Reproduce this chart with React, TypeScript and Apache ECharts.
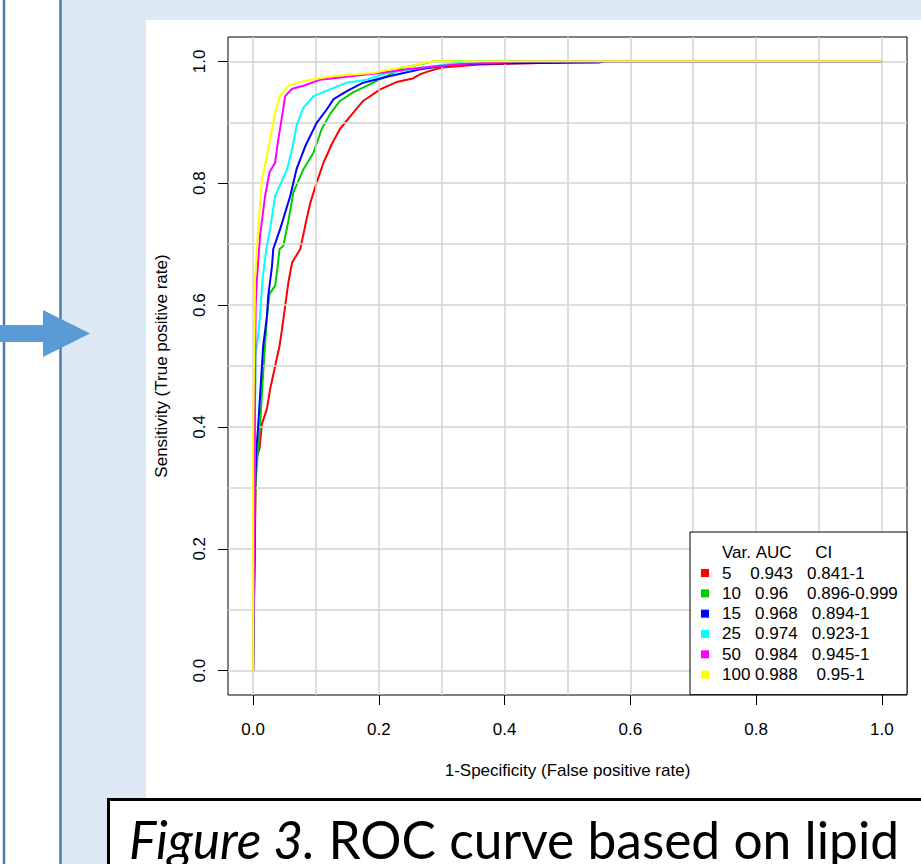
import React, { useEffect, useRef } from 'react';
import * as echarts from 'echarts';

// ---- data ----
const varCounts = ['5', '10', '15', '25', '50', '100'];
const aucValues = ['0.943', '0.96', '0.968', '0.974', '0.984', '0.988'];
const ciValues = ['0.841-1', '0.896-0.999', '0.894-1', '0.923-1', '0.945-1', '0.95-1'];
const seriesColors = ['#ff0000', '#00cd00', '#0000ff', '#00ffff', '#ff00ff', '#ffff00'];

// [1-specificity, sensitivity]
const roc5 = [[0, 0], [0.003, 0.23], [0.004, 0.31], [0.005, 0.348], [0.01, 0.364], [0.014, 0.405], [0.022, 0.43], [0.027, 0.462], [0.035, 0.5], [0.042, 0.533], [0.046, 0.561], [0.051, 0.599], [0.056, 0.637], [0.062, 0.67], [0.075, 0.692], [0.085, 0.741], [0.091, 0.768], [0.101, 0.801], [0.112, 0.834], [0.125, 0.864], [0.138, 0.889], [0.157, 0.913], [0.175, 0.935], [0.202, 0.954], [0.228, 0.966], [0.254, 0.972], [0.266, 0.979], [0.28, 0.984], [0.3, 0.99], [0.36, 0.995], [0.44, 0.997], [0.49, 0.998], [0.5, 1], [1, 1]];
const roc10 = [[0, 0], [0.001, 0.1], [0.002, 0.2], [0.004, 0.31], [0.007, 0.353], [0.011, 0.402], [0.015, 0.473], [0.019, 0.536], [0.022, 0.582], [0.026, 0.618], [0.035, 0.632], [0.039, 0.664], [0.042, 0.692], [0.048, 0.697], [0.056, 0.738], [0.064, 0.785], [0.08, 0.823], [0.096, 0.85], [0.109, 0.889], [0.122, 0.913], [0.138, 0.935], [0.159, 0.949], [0.191, 0.965], [0.223, 0.981], [0.239, 0.99], [0.26, 0.994], [0.287, 1], [1, 1]];
const roc15 = [[0, 0], [0.002, 0.17], [0.003, 0.3], [0.004, 0.33], [0.005, 0.36], [0.008, 0.402], [0.011, 0.451], [0.014, 0.5], [0.016, 0.533], [0.022, 0.582], [0.024, 0.615], [0.03, 0.664], [0.032, 0.692], [0.043, 0.725], [0.059, 0.779], [0.069, 0.823], [0.083, 0.861], [0.101, 0.899], [0.117, 0.921], [0.128, 0.938], [0.149, 0.951], [0.175, 0.965], [0.218, 0.976], [0.266, 0.987], [0.318, 0.995], [0.4, 0.997], [0.55, 0.998], [0.56, 1], [1, 1]];
const roc25 = [[0, 0], [0.002, 0.3], [0.004, 0.52], [0.008, 0.55], [0.011, 0.582], [0.015, 0.643], [0.021, 0.692], [0.027, 0.725], [0.035, 0.779], [0.054, 0.823], [0.062, 0.856], [0.069, 0.894], [0.08, 0.924], [0.096, 0.943], [0.122, 0.954], [0.149, 0.965], [0.181, 0.97], [0.213, 0.981], [0.266, 0.989], [0.33, 0.998], [0.335, 1], [1, 1]];
const roc50 = [[0, 0], [0.002, 0.27], [0.003, 0.45], [0.004, 0.6], [0.006, 0.643], [0.011, 0.714], [0.019, 0.779], [0.026, 0.818], [0.035, 0.834], [0.04, 0.872], [0.046, 0.91], [0.051, 0.943], [0.062, 0.955], [0.08, 0.96], [0.107, 0.97], [0.159, 0.976], [0.202, 0.981], [0.244, 0.987], [0.292, 0.992], [0.34, 0.996], [0.4, 0.998], [0.41, 1], [1, 1]];
const roc100 = [[0, 0], [0, 0.39], [0.002, 0.55], [0.003, 0.643], [0.008, 0.725], [0.014, 0.807], [0.022, 0.845], [0.03, 0.889], [0.035, 0.916], [0.043, 0.943], [0.056, 0.96], [0.069, 0.965], [0.091, 0.97], [0.128, 0.976], [0.191, 0.981], [0.218, 0.987], [0.25, 0.992], [0.276, 0.998], [0.286, 1], [1, 1]];
const rocCurves = [roc5, roc10, roc15, roc25, roc50, roc100];

const tickValues = [0, 0.2, 0.4, 0.6, 0.8, 1.0];
const tickLabels = ['0.0', '0.2', '0.4', '0.6', '0.8', '1.0'];
const gridValues = [0, 0.1, 0.2, 0.3, 0.4, 0.5, 0.6, 0.7, 0.8, 0.9, 1.0];

const xTitle = '1-Specificity (False positive rate)';
const yTitle = 'Sensitivity (True positive rate)';
const legendHeader = ['Var.', 'AUC', 'CI'];
const captionItalic = 'Figure 3.';
const captionRest = ' ROC curve based on lipid';

// ---- layout / style ----
const FONT = "'Liberation Sans', Arial, sans-serif";
const gapAfterVar = [4, 3, 3, 3, 3, 1];
const gapAfterAuc = [3, 4, 3, 3, 3, 4];
const headerGaps = [1, 5];
const nb = (n: number) => '\u00A0'.repeat(n);

const tickLabel = (v: number) => {
  const i = tickValues.findIndex((t) => Math.abs(t - v) < 1e-9);
  return i >= 0 ? tickLabels[i] : '';
};

export default function App() {
  const ref = useRef<HTMLDivElement>(null);

  useEffect(() => {
    if (!ref.current) return;
    const chart = echarts.init(ref.current, null, { renderer: 'svg' });

    const legendText = (name: string) => {
      const i = varCounts.indexOf(name);
      return `{t|${varCounts[i]}${nb(gapAfterVar[i])}${aucValues[i]}${nb(gapAfterAuc[i])}${ciValues[i]}}`;
    };

    const gridSeries: any = {
      type: 'line',
      name: '__grid',
      data: [[0, 0]],
      symbol: 'none',
      lineStyle: { opacity: 0 },
      silent: true,
      z: 1,
      markLine: {
        silent: true,
        symbol: ['none', 'none'],
        label: { show: false },
        emphasis: { disabled: true },
        lineStyle: { color: '#d3d3d3', width: 1.5, type: 'solid' },
        data: [
          ...gridValues.map((v) => ({ xAxis: v })),
          ...gridValues.map((v) => ({ yAxis: v })),
        ],
      },
    };

    const curveSeries = rocCurves.map((d, i) => ({
      type: 'line',
      name: varCounts[i],
      data: d,
      symbol: 'none',
      showSymbol: false,
      color: seriesColors[i],
      itemStyle: { color: seriesColors[i] },
      lineStyle: { color: seriesColors[i], width: 2 },
      silent: true,
      z: 3 + i,
    }));

    const axisText = { fontSize: 17, fontFamily: FONT, color: '#000' };

    chart.setOption({
      animation: false,
      backgroundColor: '#ffffff',
      grid: {
        left: 228,
        top: 37,
        width: 679,
        height: 658,
        show: true,
        borderColor: '#000',
        borderWidth: 1,
        backgroundColor: 'transparent',
        z: 2,
      },
      xAxis: {
        type: 'value',
        min: -0.04,
        max: 1.04,
        name: xTitle,
        nameLocation: 'middle',
        nameGap: 67,
        nameTextStyle: axisText,
        axisLine: { show: false, onZero: false },
        axisTick: { show: true, customValues: tickValues, length: 10, inside: false, lineStyle: { color: '#000', width: 1 } },
        axisLabel: { show: true, customValues: tickValues, formatter: tickLabel, margin: 26, ...axisText },
        splitLine: { show: false },
      },
      yAxis: {
        type: 'value',
        min: -0.04,
        max: 1.04,
        name: yTitle,
        nameLocation: 'middle',
        nameGap: 58,
        nameTextStyle: axisText,
        axisLine: { show: false, onZero: false },
        axisTick: { show: true, customValues: tickValues, length: 10, inside: false, lineStyle: { color: '#000', width: 1 } },
        axisLabel: { show: true, customValues: tickValues, formatter: tickLabel, margin: 20, rotate: 90, ...axisText },
        splitLine: { show: false },
      },
      legend: {
        show: true,
        orient: 'vertical',
        left: 690,
        top: 532,
        padding: [31, 9, 10, 11],
        itemWidth: 8,
        itemHeight: 8,
        itemGap: 0.33,
        icon: 'rect',
        itemStyle: { borderWidth: 0 },
        backgroundColor: '#fff',
        borderColor: '#000',
        borderWidth: 1,
        borderRadius: 0,
        selectedMode: false,
        data: varCounts,
        formatter: legendText,
        textStyle: {
          ...axisText,
          lineHeight: 20,
          rich: {
            t: { ...axisText, lineHeight: 20, width: 176, padding: [0, 0, 0, 8] },
          },
        },
        z: 8,
      },
      graphic: [
        { type: 'rect', z: -10, silent: true, shape: { x: 62, y: 0, width: 859, height: 864 }, style: { fill: '#dde9f5' } },
        { type: 'line', z: -9, silent: true, shape: { x1: 4, y1: 0, x2: 4, y2: 864 }, style: { stroke: '#4f79ad', lineWidth: 2.5 } },
        { type: 'line', z: -9, silent: true, shape: { x1: 60.5, y1: 0, x2: 60.5, y2: 864 }, style: { stroke: '#4f79ad', lineWidth: 2.5 } },
        { type: 'rect', z: -8, silent: true, shape: { x: 146, y: 20, width: 775, height: 844 }, style: { fill: '#ffffff' } },
        {
          type: 'polygon', z: 20, silent: true,
          shape: { points: [[0, 325], [43, 325], [43, 310], [90, 333.5], [43, 357], [43, 342], [0, 342]] },
          style: { fill: '#5b9bd5' },
        },
        {
          type: 'rect', z: 20, silent: true,
          shape: { x: 108.5, y: 799.5, width: 830, height: 80 },
          style: { fill: '#ffffff', stroke: '#000000', lineWidth: 3 },
        },
        {
          type: 'text', z: 21, silent: true,
          x: 129, y: 839,
          style: {
            text: `{i|${captionItalic}}{n|${captionRest}}`,
            verticalAlign: 'middle',
            align: 'left',
            rich: {
              i: { fontFamily: 'Lato, sans-serif', fontSize: 51.5, fontStyle: 'italic', fill: '#000' },
              n: { fontFamily: 'Lato, sans-serif', fontSize: 51.5, fill: '#000' },
            },
          },
        },
        {
          type: 'text', z: 30, silent: true,
          x: 722, y: 552,
          style: {
            text: `${legendHeader[0]}${nb(headerGaps[0])}${legendHeader[1]}${nb(headerGaps[1])}${legendHeader[2]}`,
            verticalAlign: 'middle',
            align: 'left',
            fontSize: 17,
            fontFamily: FONT,
            fill: '#000',
          },
        },
      ],
      series: [gridSeries, ...curveSeries],
    });

    return () => chart.dispose();
  }, []);

  return <div ref={ref} style={{ position: 'fixed', left: 0, top: 0, width: 921, height: 864 }} />;
}
